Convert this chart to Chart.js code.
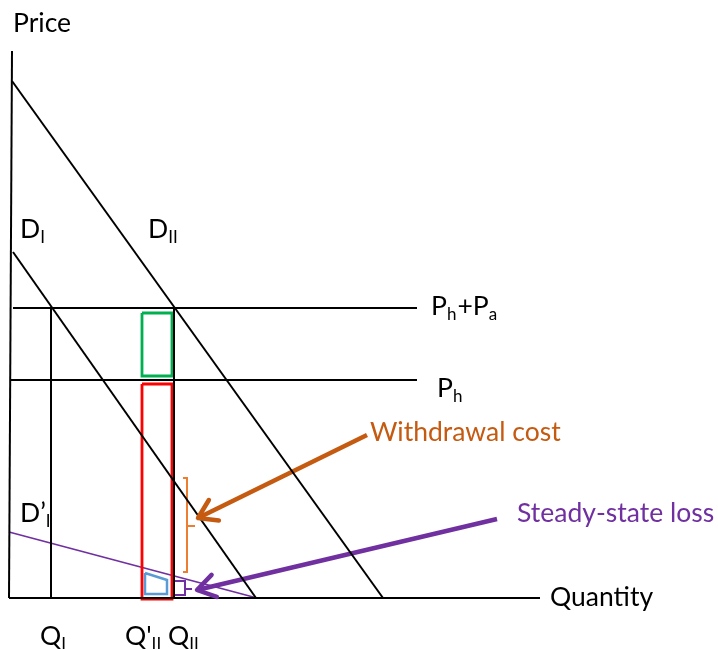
<!DOCTYPE html>
<html>
<head>
<meta charset="utf-8">
<script src="https://cdn.jsdelivr.net/npm/chart.js@4"></script>
<style>
  html, body { margin: 0; padding: 0; background: #ffffff; }
  #wrap { width: 718px; height: 649px; }
</style>
</head>
<body>
<div id="wrap"><canvas id="c" width="718" height="649"></canvas></div>
<script>
// ---- Data (quantity on x, price on y; origin at the axes' corner) ----
const priceAxis     = [{x: 3, y: 547}, {x: 0, y: 0}];
const quantityAxis  = [{x: 0, y: 0}, {x: 531, y: 0}];
const demandII      = [{x: 3, y: 517}, {x: 374, y: 0}];
const demandI       = [{x: 4, y: 346}, {x: 247, y: 0}];
const demandIPrime  = [{x: 0, y: 66}, {x: 248, y: 0}];
const priceHPlusA   = [{x: 4, y: 290}, {x: 408, y: 290}];
const priceH        = [{x: 1, y: 218}, {x: 408, y: 218}];
const quantityI     = [{x: 42, y: 290}, {x: 42, y: 0}];
const quantityII    = [{x: 165, y: 290}, {x: 165, y: 0}];
const greenBox      = [{x: 133, y: 285}, {x: 163, y: 285}, {x: 163, y: 222}, {x: 133, y: 222}, {x: 133, y: 285}];
const redBox        = [{x: 133, y: 214}, {x: 163, y: 214}, {x: 163, y: -1}, {x: 133, y: -1}, {x: 133, y: 214}];
const blueArea      = [{x: 136, y: 25}, {x: 158, y: 18}, {x: 158, y: 4}, {x: 136, y: 4}, {x: 136, y: 25}];
const lossBracket   = [{x: 165, y: 17}, {x: 176, y: 17}, {x: 176, y: 9}, {x: 183, y: 9}, {x: 176, y: 9}, {x: 176, y: 3}, {x: 165, y: 3}];
const costBracket   = [{x: 174, y: 120}, {x: 178, y: 120}, {x: 178, y: 72}, {x: 186, y: 72}, {x: 178, y: 72}, {x: 178, y: 26}, {x: 174, y: 26}];
const costArrow     = [{x: 358, y: 163}, {x: 189, y: 80}];
const lossArrow     = [{x: 488, y: 79}, {x: 188, y: 8}];

// ---- Text labels: segments [text, subscript?] ----
const labelTexts = {
  price:    [["Price", false]],
  dI:       [["D", false], ["I", true]],
  dII:      [["D", false], ["II", true]],
  phpa:     [["P", false], ["h", true], ["+P", false], ["a", true]],
  ph:       [["P", false], ["h", true]],
  cost:     [["Withdrawal cost", false]],
  loss:     [["Steady-state loss", false]],
  dIprime:  [["D’", false], ["I", true]],
  quantity: [["Quantity", false]],
  qI:       [["Q", false], ["I", true]],
  qIIprime: [["Q'", false], ["II", true]],
  qII:      [["Q", false], ["II", true]]
};

const BLACK = '#000000', PURPLE = '#7030A0', ORANGE_DARK = '#C55A11', ORANGE = '#ED7D31',
      GREEN = '#00B050', RED = '#FF0000', BLUE = '#5B9BD5';

function seg(data, color, width) {
  return { data, borderColor: color, borderWidth: width, showLine: true, fill: false,
           pointRadius: 0, pointHoverRadius: 0, tension: 0, borderCapStyle: 'butt', borderJoinStyle: 'miter' };
}

const labelPlacement = [
  { key: 'price',    x: 4,   y: 566, color: BLACK },
  { key: 'dI',       x: 11,  y: 360, color: BLACK },
  { key: 'dII',      x: 139, y: 360, color: BLACK },
  { key: 'phpa',     x: 422, y: 283, color: BLACK },
  { key: 'ph',       x: 428, y: 201, color: BLACK },
  { key: 'cost',     x: 361, y: 157, color: ORANGE_DARK },
  { key: 'loss',     x: 508, y: 76,  color: PURPLE },
  { key: 'dIprime',  x: 11,  y: 76,  color: BLACK },
  { key: 'quantity', x: 541, y: -8,  color: BLACK },
  { key: 'qI',       x: 31,  y: -47, color: BLACK },
  { key: 'qIIprime', x: 116, y: -47, color: BLACK },
  { key: 'qII',      x: 159, y: -47, color: BLACK }
];

const FONT = 'Lato, "Open Sans", sans-serif';
const MAIN = 26.5, SUB = 17;

const annotations = {
  id: 'annotations',
  afterDatasetsDraw(chart) {
    const ctx = chart.ctx, xs = chart.scales.x, ys = chart.scales.y;
    // arrowheads
    const heads = [[costArrow, ORANGE_DARK], [lossArrow, PURPLE]];
    heads.forEach(([pts, col]) => {
      const a = pts[0], b = pts[1];
      const x0 = xs.getPixelForValue(a.x), y0 = ys.getPixelForValue(a.y);
      const x1 = xs.getPixelForValue(b.x), y1 = ys.getPixelForValue(b.y);
      const ang = Math.atan2(y1 - y0, x1 - x0);
      const L = 21, spread = Math.PI / 5.5;
      ctx.save();
      ctx.strokeStyle = col; ctx.lineWidth = 4.5; ctx.lineCap = 'round'; ctx.lineJoin = 'round';
      ctx.beginPath();
      ctx.moveTo(x1 - L * Math.cos(ang - spread), y1 - L * Math.sin(ang - spread));
      ctx.lineTo(x1, y1);
      ctx.lineTo(x1 - L * Math.cos(ang + spread), y1 - L * Math.sin(ang + spread));
      ctx.stroke();
      ctx.restore();
    });
    // labels
    ctx.save();
    ctx.textBaseline = 'alphabetic';
    ctx.textAlign = 'left';
    labelPlacement.forEach(p => {
      let x = xs.getPixelForValue(p.x);
      const y = ys.getPixelForValue(p.y);
      ctx.fillStyle = p.color;
      labelTexts[p.key].forEach(([t, sub]) => {
        ctx.font = (sub ? SUB : MAIN) + 'px ' + FONT;
        ctx.fillText(t, x, sub ? y + 5 : y);
        x += ctx.measureText(t).width + (sub ? 1 : 0);
      });
    });
    ctx.restore();
  }
};

new Chart(document.getElementById('c'), {
  type: 'scatter',
  data: {
    datasets: [
      seg(priceAxis, BLACK, 2),
      seg(quantityAxis, BLACK, 2),
      seg(demandII, BLACK, 2),
      seg(demandI, BLACK, 2),
      seg(priceHPlusA, BLACK, 2),
      seg(priceH, BLACK, 2),
      seg(quantityI, BLACK, 2),
      seg(quantityII, BLACK, 2),
      seg(greenBox, GREEN, 2.8),
      seg(redBox, RED, 2.8),
      seg(blueArea, BLUE, 2.5),
      seg(demandIPrime, PURPLE, 1.8),
      seg(lossBracket, PURPLE, 2),
      seg(costBracket, ORANGE, 2),
      seg(costArrow, ORANGE_DARK, 4.5),
      seg(lossArrow, PURPLE, 4.5)
    ]
  },
  options: {
    responsive: false,
    animation: false,
    layout: { padding: 0 },
    plugins: { legend: { display: false }, tooltip: { enabled: false } },
    scales: {
      x: { type: 'linear', min: -9, max: 709, display: false },
      y: { type: 'linear', min: -51, max: 598, display: false }
    },
    events: []
  },
  plugins: [annotations]
});
</script>
</body>
</html>
